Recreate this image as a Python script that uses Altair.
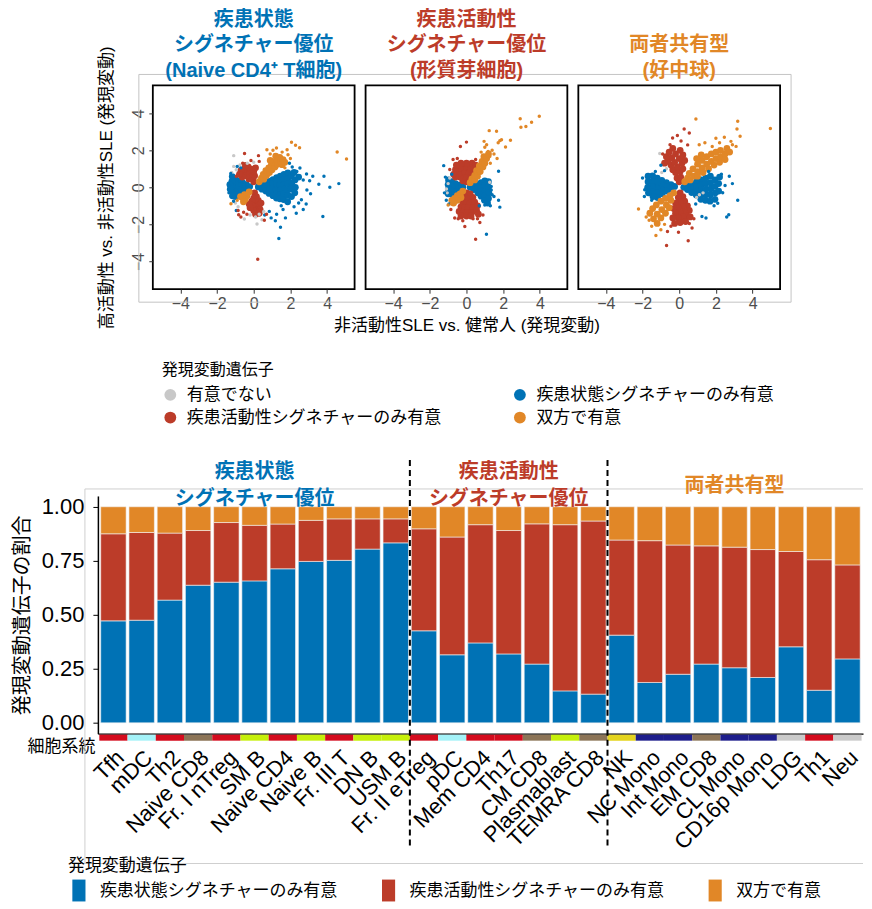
import altair as alt
import pandas as pd

FONT = "Liberation Sans, Noto Sans CJK JP, sans-serif"
BLUE, RED, ORANGE, GRAY = "#0072B5", "#BC3C29", "#E18727", "#C8C8C8"

NS = "有意でない"
STATE = "疾患状態シグネチャーのみ有意"
ACT = "疾患活動性シグネチャーのみ有意"
BOTH = "双方で有意"
DRAW_ORDER = [NS, STATE, ACT, BOTH]
LEGEND_ORDER = [NS, ACT, STATE, BOTH]
LEGEND_COLORS = [GRAY, RED, BLUE, ORANGE]

# ---------------- scatter data (x: inactive SLE vs HC, y: high vs inactive SLE)
# Panel 1: Naive CD4+ T cells
P1_GRAY = [(-1.09, 1.71), (-1.09, 1.13), (-0.95, 0.95), (-0.75, 1.2), (-1.2, 0.8), (-0.51, -1.71),
           (0.18, -1.98), (0.45, -1.75), (0.3, -1.45), (-0.2, -1.5), (-0.85, -1.05), (-1.0, -0.85),
           (0.55, -1.3), (0.1, -1.6), (-0.35, 1.3), (0.0, 1.35)]
P1_BLUE_CORE = [(0.25, 0.02), (0.45, 0.12), (0.45, -0.1), (0.65, 0.22), (0.62, 0.02), (0.66, -0.2),
                (0.85, 0.32), (0.83, 0.1), (0.86, -0.12), (0.84, -0.33), (1.05, 0.42), (1.03, 0.2),
                (1.06, -0.02), (1.02, -0.24), (1.05, -0.45), (1.25, 0.52), (1.24, 0.3), (1.27, 0.08),
                (1.23, -0.14), (1.26, -0.36), (1.24, -0.58), (1.45, 0.6), (1.46, 0.36), (1.44, 0.12),
                (1.47, -0.12), (1.45, -0.38), (1.43, -0.62), (1.65, 0.7), (1.66, 0.43), (1.64, 0.16),
                (1.67, -0.1), (1.65, -0.36), (1.63, -0.66), (1.86, 0.78), (1.85, 0.46), (1.88, 0.18),
                (1.84, -0.14), (1.87, -0.44), (1.85, -0.78), (2.05, 0.6), (2.08, 0.25), (2.04, -0.1),
                (2.06, -0.5), (2.25, 0.4), (2.27, 0.0), (2.24, -0.3), (2.45, 0.55), (2.2, 0.8),
                (-0.22, 0.04), (-0.4, 0.14), (-0.42, -0.08), (-0.6, 0.24), (-0.62, 0.02), (-0.6, -0.18),
                (-0.8, 0.34), (-0.82, 0.1), (-0.79, -0.12), (-0.81, -0.34), (-1.0, 0.46), (-1.02, 0.22),
                (-0.99, -0.02), (-1.01, -0.26), (-1.0, -0.5), (-1.17, 0.58), (-1.19, 0.32), (-1.18, 0.06),
                (-1.2, -0.2), (-1.16, -0.46), (-1.3, 0.15), (-1.28, -0.1)]
P1_BLUE = [(4.64, 0.2), (4.15, 0.0), (3.77, -1.57), (3.83, 0.6), (3.55, 0.17), (3.22, 0.6), (2.88, 0.72),
           (2.52, 1.04), (1.46, -2.16), (1.37, -2.76), (2.86, -0.9), (2.7, -1.2), (2.32, -1.4),
           (1.73, -1.65), (1.18, -1.8), (2.6, -0.67), (2.45, -0.85), (2.9, -0.15), (3.1, -0.35),
           (2.1, 1.1), (1.95, 1.3), (1.6, -1.2), (1.25, -1.45), (0.85, -1.3), (0.95, -1.65),
           (-0.9, 1.13), (-0.7, 1.05), (-0.95, -1.25), (-1.35, 0.1), (-1.35, -0.3), (2.2, -1.05),
           (3.05, 0.35), (2.7, 0.4), (2.35, 0.85), (1.5, -1.0), (0.6, -1.5), (-1.25, 0.75), (-1.1, -0.75)]
P1_RED_CORE = [(0.0, 0.3), (-0.12, 0.5), (0.05, 0.62), (-0.26, 0.45), (-0.2, 0.72), (0.0, 0.86),
               (-0.4, 0.62), (-0.36, 0.86), (-0.14, 0.98), (-0.56, 0.76), (-0.5, 1.0), (-0.3, 1.1),
               (-0.7, 0.9), (-0.62, 0.55), (0.1, 1.05), (-0.45, 1.18), (-0.78, 0.7),
               (0.05, -0.3), (0.15, -0.5), (0.0, -0.58), (0.25, -0.7), (0.1, -0.8), (-0.1, -0.74),
               (0.3, -0.95), (0.15, -1.05), (-0.05, -1.0), (0.35, -1.2), (0.2, -1.3), (0.0, -1.25),
               (-0.2, -1.1), (0.4, -0.85), (-0.25, -0.9), (0.3, -1.4), (0.1, -1.45)]
P1_RED = [(-0.5, 1.82), (0.26, 1.71), (0.58, -1.78), (-0.82, -1.48), (-0.37, -1.45), (-0.7, -1.6),
          (-0.55, -1.35), (0.22, -3.88), (-0.85, -1.25), (0.3, 1.4), (-0.15, 1.45), (-0.95, 0.6),
          (0.7, -1.45), (-0.6, 1.3)]
P1_ORANGE_CORE = [(0.3, 0.3), (0.42, 0.5), (0.55, 0.44), (0.52, 0.7), (0.7, 0.64), (0.66, 0.9),
                  (0.86, 0.8), (0.82, 1.05), (1.0, 0.95), (0.96, 1.2), (1.16, 1.1), (1.1, 1.35),
                  (1.3, 1.25), (1.26, 1.5), (1.46, 1.4), (1.42, 1.62), (1.6, 1.5), (1.55, 1.22),
                  (1.7, 1.35), (0.9, 1.45), (1.2, 1.68), (-0.25, -0.25), (-0.36, -0.45), (-0.5, -0.4),
                  (-0.46, -0.64), (-0.62, -0.55), (-0.72, -0.5), (-0.56, -0.78)]
P1_ORANGE = [(2.06, 2.43), (2.28, 2.27), (2.5, 2.14), (1.82, 2.03), (1.24, 2.12), (0.72, 2.03),
             (4.55, 1.91), (5.06, 1.53), (1.87, 1.76), (2.0, 1.55), (-1.24, -0.89), (1.55, 1.9),
             (0.9, 1.8), (1.05, 2.0), (1.7, 1.05), (-0.9, -0.7)]

# Panel 2: Plasmablasts
P2_GRAY = [(1.27, 0.27), (-1.09, -0.09), (-1.0, 0.2), (-0.91, 0.5), (-1.05, -0.3)]
P2_BLUE_CORE = [(0.2, 0.0), (0.4, 0.08), (0.4, -0.12), (0.6, 0.16), (0.6, -0.08), (0.62, -0.3),
                (0.8, 0.25), (0.8, 0.0), (0.82, -0.25), (0.8, -0.48), (1.0, 0.35), (1.0, 0.08),
                (1.02, -0.2), (1.0, -0.48), (0.98, -0.7), (1.2, 0.3), (1.2, 0.0), (1.22, -0.3),
                (1.2, -0.6), (1.15, -0.85), (-0.2, 0.02), (-0.4, 0.12), (-0.4, -0.1), (-0.6, 0.2),
                (-0.6, -0.02), (-0.62, -0.22), (-0.8, 0.3), (-0.8, 0.06), (-0.82, -0.18), (-0.8, -0.38),
                (-0.98, 0.4), (-1.0, 0.15), (-0.98, -0.1), (-1.0, -0.35)]
P2_BLUE = [(-1.24, 1.17), (1.75, 0.87), (1.35, 0.05), (1.35, -0.15), (1.75, -0.7), (1.82, -1.07),
           (1.09, -2.53), (1.0, -0.95), (1.4, -0.4), (-1.1, -0.7), (-0.95, -0.9), (-1.15, 0.55),
           (0.7, -1.0), (1.3, -1.0), (-0.8, 0.7), (1.5, -0.5), (-1.2, -0.3)]
P2_RED_CORE = [(0.0, 0.3), (-0.2, 0.35), (0.15, 0.55), (-0.1, 0.6), (-0.35, 0.55), (0.3, 0.8),
               (0.05, 0.85), (-0.2, 0.85), (-0.45, 0.75), (-0.6, 0.55), (0.4, 1.05), (0.15, 1.1),
               (-0.1, 1.1), (-0.35, 1.05), (-0.6, 0.95), (-0.7, 0.7), (0.3, 1.3), (0.0, 1.3),
               (-0.3, 1.3), (-0.55, 1.2), (0.5, 1.2),
               (0.0, -0.3), (0.2, -0.35), (-0.1, -0.55), (0.1, -0.6), (0.35, -0.55), (-0.2, -0.85),
               (0.0, -0.85), (0.2, -0.85), (0.45, -0.8), (-0.3, -1.05), (-0.1, -1.1), (0.1, -1.1),
               (0.35, -1.1), (0.6, -1.0), (-0.4, -1.3), (-0.2, -1.35), (0.05, -1.35), (0.3, -1.35),
               (0.55, -1.25), (-0.3, -1.55), (0.0, -1.55), (0.25, -1.55), (0.65, -1.45)]
P2_RED = [(0.0, 2.44), (-0.33, 2.2), (-0.73, 1.5), (-0.91, 0.96), (-0.09, -2.12), (0.73, -1.9),
          (0.5, -2.8), (0.36, -1.7), (0.6, -1.7), (-0.64, -1.66), (-0.45, -1.7), (-0.2, -1.8),
          (0.9, -1.5), (-0.5, 1.55), (0.5, 1.5), (-0.85, -1.2)]
P2_ORANGE_CORE = [(0.2, 0.25), (0.3, 0.45), (0.45, 0.4), (0.45, 0.65), (0.6, 0.6), (0.55, 0.9),
                  (0.75, 0.85), (0.7, 1.15), (0.9, 1.1), (0.85, 1.4), (1.0, 1.3), (0.95, 1.65),
                  (1.1, 1.55), (1.2, 1.8), (-0.2, -0.2), (-0.35, -0.35), (-0.3, -0.55), (-0.5, -0.45),
                  (-0.5, -0.7), (-0.65, -0.6), (-0.7, -0.85), (-0.8, -0.7)]
P2_ORANGE = [(3.97, 3.84), (3.55, 3.51), (2.93, 3.7), (2.97, 3.24), (3.24, 3.28), (2.4, 2.54),
             (2.13, 2.18), (1.24, 3.06), (1.64, 3.03), (1.91, 2.57), (1.82, 2.52), (1.73, 2.4),
             (0.96, 2.48), (1.0, 2.16), (1.18, 1.94), (1.27, 1.67), (1.67, 1.55), (1.4, 2.0),
             (1.5, 1.8), (1.1, 2.3), (0.8, 1.9), (-0.82, -0.9), (-1.0, -0.95), (1.3, 1.3)]

# Panel 3: Neutrophils
P3_GRAY = [(-1.06, 1.82), (1.1, -0.4), (0.95, -0.55), (-0.7, 1.0), (-0.95, 0.8), (1.3, -0.3)]
P3_BLUE_CORE = [(0.25, 0.0), (0.45, 0.1), (0.45, -0.12), (0.7, 0.2), (0.7, -0.05), (0.68, -0.28),
                (0.95, 0.3), (0.95, 0.05), (0.97, -0.2), (0.93, -0.42), (1.2, 0.4), (1.2, 0.12),
                (1.22, -0.15), (1.2, -0.42), (1.18, -0.65), (1.45, 0.5), (1.45, 0.2), (1.47, -0.1),
                (1.45, -0.4), (1.43, -0.7), (1.7, 0.6), (1.7, 0.25), (1.72, -0.08), (1.7, -0.4),
                (1.68, -0.75), (1.95, 0.4), (1.95, 0.05), (1.97, -0.3), (1.95, -0.65), (2.15, 0.2),
                (2.15, -0.2), (2.2, 0.55), (-0.25, 0.05), (-0.45, 0.15), (-0.45, -0.08), (-0.7, 0.25),
                (-0.7, 0.02), (-0.68, -0.2), (-0.95, 0.38), (-0.95, 0.12), (-0.97, -0.12), (-0.93, -0.35),
                (-1.2, 0.5), (-1.2, 0.22), (-1.22, -0.05), (-1.2, -0.3), (-1.18, -0.55), (-1.45, 0.62),
                (-1.45, 0.32), (-1.47, 0.02), (-1.45, -0.25), (-1.43, -0.5), (-1.7, 0.6), (-1.7, 0.3),
                (-1.72, 0.0), (-1.68, -0.3)]
P3_BLUE = [(-1.88, -0.13), (-1.68, 0.65), (-1.0, 1.19), (2.73, 0.6), (2.19, 0.23), (3.19, -0.7),
           (2.7, -1.48), (2.59, -1.6), (1.46, -1.66), (1.24, -1.57), (2.1, -0.86), (1.64, -0.74),
           (2.37, -0.29), (-2.0, 0.5), (-1.9, -0.5), (-1.5, -0.7), (2.5, 0.1), (2.3, 0.7),
           (1.9, -1.0), (-1.3, 0.85), (-0.8, 0.9), (0.9, -0.9), (2.9, 0.2), (1.6, 0.85)]
P3_RED_CORE = [(0.0, 0.3), (-0.12, 0.5), (0.08, 0.55), (-0.2, 0.8), (0.05, 0.85), (-0.35, 0.95),
               (0.2, 1.0), (-0.1, 1.1), (-0.45, 1.2), (0.15, 1.3), (-0.25, 1.35), (-0.6, 1.4),
               (0.3, 1.45), (0.0, 1.55), (-0.4, 1.6), (-0.7, 1.65), (0.2, 1.75), (-0.2, 1.8),
               (-0.55, 1.9), (0.05, 2.0), (-0.35, 2.1), (-0.8, 1.3),
               (0.05, -0.3), (0.2, -0.5), (-0.05, -0.55), (0.3, -0.75), (0.05, -0.8), (-0.2, -0.85),
               (0.45, -1.0), (0.2, -1.05), (-0.05, -1.1), (-0.3, -1.15), (0.55, -1.25), (0.3, -1.3),
               (0.05, -1.35), (-0.2, -1.4), (0.45, -1.55), (0.2, -1.6), (-0.05, -1.65), (-0.35, -1.65),
               (0.35, -1.85), (0.05, -1.9), (-0.25, -1.95), (0.6, -1.6)]
P3_RED = [(-0.36, 2.66), (0.27, 3.15), (0.55, 2.93), (0.46, 2.29), (-0.64, -2.38), (-0.04, -2.43),
          (-0.69, -3.14), (0.49, -2.88), (0.55, -1.95), (-0.1, 2.8), (0.1, 2.5), (-0.5, 2.3),
          (-0.9, 1.8), (0.8, -1.7), (0.7, -2.2), (-0.45, -2.1)]
P3_ORANGE_CORE = [(0.3, 0.3), (0.45, 0.5), (0.6, 0.4), (0.55, 0.75), (0.8, 0.6), (0.75, 1.0),
                  (1.0, 0.85), (1.0, 1.25), (1.25, 1.05), (1.25, 1.45), (1.5, 1.25), (1.5, 1.65),
                  (1.75, 1.4), (1.75, 1.8), (2.0, 1.55), (2.0, 1.9), (2.25, 1.65), (2.25, 2.0),
                  (2.5, 1.8), (2.6, 2.1), (1.2, 1.75), (0.95, 1.55), (2.75, 1.9),
                  (1.0, 0.6), (1.3, 0.8), (1.6, 1.0), (1.9, 1.2), (2.2, 1.35), (2.5, 1.5),
                  (-0.3, -0.3), (-0.5, -0.45), (-0.45, -0.7), (-0.75, -0.6), (-0.7, -0.95),
                  (-1.0, -0.75), (-0.95, -1.2), (-1.25, -0.95), (-1.2, -1.45), (-1.45, -1.15),
                  (-1.4, -1.7), (-0.75, -1.4), (-1.0, -1.65), (-1.6, -1.4), (-1.2, -1.95), (-0.55, -1.1)]
P3_ORANGE = [(0.91, 3.69), (3.19, 3.57), (4.97, 3.17), (3.15, 3.15), (3.32, 2.76), (2.46, 2.7),
             (2.82, 2.48), (3.1, 2.21), (1.09, 2.3), (1.4, 2.4), (2.9, 2.3), (2.2, 2.4), (1.8, 2.2),
             (-2.22, -1.17), (-1.64, -1.78), (-1.27, -2.6), (-1.0, -2.29), (-1.5, -2.1),
             (-1.8, -1.6), (-0.8, -2.0), (2.0, 2.65)]

PANELS = {
    "p1": {NS: ([], P1_GRAY), STATE: (P1_BLUE_CORE, P1_BLUE), ACT: (P1_RED_CORE, P1_RED),
           BOTH: (P1_ORANGE_CORE, P1_ORANGE)},
    "p2": {NS: ([], P2_GRAY), STATE: (P2_BLUE_CORE, P2_BLUE), ACT: (P2_RED_CORE, P2_RED),
           BOTH: (P2_ORANGE_CORE, P2_ORANGE)},
    "p3": {NS: ([], P3_GRAY), STATE: (P3_BLUE_CORE, P3_BLUE), ACT: (P3_RED_CORE, P3_RED),
           BOTH: (P3_ORANGE_CORE, P3_ORANGE)},
}
PANEL_TITLES = {
    "p1": ("疾患状態\nシグネチャー優位\n(Naive CD4⁺ T細胞)", BLUE),
    "p2": ("疾患活動性\nシグネチャー優位\n(形質芽細胞)", RED),
    "p3": ("両者共有型\n(好中球)", ORANGE),
}

rows = []
for pk, cats in PANELS.items():
    for cat in DRAW_ORDER:
        core, outer = cats[cat]
        for (x, y) in core:
            rows.append({"panel": pk, "cat": cat, "kind": "core", "x": x, "y": y})
        for (x, y) in outer:
            rows.append({"panel": pk, "cat": cat, "kind": "out", "x": x, "y": y})
sc_df = pd.DataFrame(rows)

# ---------------- bar data
CELLS = ["Tfh", "mDC", "Th2", "Naive CD8", "Fr. I nTreg", "SM B", "Naive CD4", "Naive B", "Fr. III T",
         "DN B", "USM B", "Fr. II eTreg", "pDC", "Mem CD4", "Th17", "CM CD8", "Plasmablast",
         "TEMRA CD8", "NK", "NC Mono", "Int Mono", "EM CD8", "CL Mono", "CD16p Mono", "LDG", "Th1", "Neu"]
STATE_FRAC = [0.472, 0.475, 0.568, 0.637, 0.651, 0.657, 0.713, 0.747, 0.752, 0.804, 0.833,
              0.426, 0.315, 0.370, 0.319, 0.272, 0.148, 0.133,
              0.406, 0.187, 0.225, 0.272, 0.255, 0.210, 0.352, 0.151, 0.296]
ACT_FRAC = [0.403, 0.406, 0.310, 0.253, 0.276, 0.257, 0.207, 0.190, 0.192, 0.140, 0.111,
            0.472, 0.545, 0.547, 0.571, 0.649, 0.769, 0.801,
            0.440, 0.656, 0.598, 0.547, 0.558, 0.592, 0.441, 0.604, 0.435]
BOTH_FRAC = [0.125, 0.119, 0.122, 0.110, 0.073, 0.086, 0.080, 0.063, 0.056, 0.056, 0.056,
             0.102, 0.140, 0.083, 0.110, 0.079, 0.083, 0.066,
             0.154, 0.157, 0.177, 0.181, 0.187, 0.198, 0.207, 0.245, 0.269]
LINEAGE = ["T", "DC", "T", "CD8", "T", "B", "T", "B", "T", "B", "B", "T", "DC", "T", "T", "CD8", "B",
           "CD8", "NK", "Mono", "Mono", "CD8", "Mono", "Mono", "Gran", "T", "Gran"]
LINEAGE_NAMES = ["T", "DC", "CD8", "B", "NK", "Mono", "Gran"]
LINEAGE_COLORS = ["#D40C1E", "#A4F2F8", "#8C7457", "#C6F00A", "#E4D41E", "#1E1E8C", "#CACACA"]
BAR_CATS = [STATE, ACT, BOTH]
GROUP_LABELS = ["疾患状態\nシグネチャー優位", "疾患活動性\nシグネチャー優位", "両者共有型"]
GROUP_ANCHORS = ["SM B", "Th17", "CL Mono"]
GROUP_CATS = [STATE, ACT, BOTH]
GROUP_ENDS = ["USM B", "TEMRA CD8"]

bar_rows = []
for i, c in enumerate(CELLS):
    for k, (cat, arr) in enumerate(zip(BAR_CATS, [STATE_FRAC, ACT_FRAC, BOTH_FRAC])):
        bar_rows.append({"cell": c, "cat": cat, "value": arr[i], "ord": k})
bar_df = pd.DataFrame(bar_rows)
strip_df = pd.DataFrame({"cell": CELLS, "lineage": LINEAGE})
group_df = pd.DataFrame({"cell": GROUP_ANCHORS, "label": GROUP_LABELS, "cat": GROUP_CATS})
group_df["nlines"] = group_df["label"].str.count("\n") + 1
ends_df = pd.DataFrame({"cell": GROUP_ENDS})
one_df = pd.DataFrame({"f": [0]})

# ---------------- scatter panels
PW, PH = 202, 204


def scatter_panel(pk, first=False, xtitle=None):
    d = sc_df[sc_df.panel == pk]
    if first:
        legend = alt.Legend(orient="none", legendX=9, legendY=277, columns=2, title="発現変動遺伝子",
                            titleFontSize=16, titleFontWeight="normal", titleColor="black",
                            titlePadding=8, labelFontSize=17, labelColor="black", labelLimit=400,
                            symbolType="circle", symbolSize=140, symbolStrokeWidth=0,
                            columnPadding=70, rowPadding=5, labelOffset=8)
    else:
        legend = None
    color = alt.Color("cat:N", scale=alt.Scale(domain=LEGEND_ORDER, range=LEGEND_COLORS), legend=legend)
    xaxis = alt.Axis(values=[-4, -2, 0, 2, 4], grid=False, domain=False, tickSize=4,
                     tickColor="#333333", labelFontSize=16, labelColor="#4d4d4d", labelPadding=2,
                     title=xtitle, titleFontSize=17, titleFontWeight="normal", titleColor="black",
                     titlePadding=6)
    x = alt.X("x:Q", scale=alt.Scale(domain=[-5.5, 5.5], nice=False, zero=False), axis=xaxis)
    if first:
        yaxis = alt.Axis(values=[-4, -2, 0, 2, 4], grid=False, domain=False, tickSize=4,
                         tickColor="#333333", labelFontSize=16, labelColor="#4d4d4d", labelPadding=2,
                         labelAngle=-90, labelAlign="center", labelBaseline="bottom",
                         title="高活動性 vs. 非活動性SLE (発現変動)", titleFontSize=17,
                         titleFontWeight="normal", titleColor="black", titlePadding=15)
        y = alt.Y("y:Q", scale=alt.Scale(domain=[-5.5, 5.5], nice=False, zero=False), axis=yaxis)
    else:
        y = alt.Y("y:Q", scale=alt.Scale(domain=[-5.5, 5.5], nice=False, zero=False), axis=None)
    core = alt.Chart(d[d.kind == "core"]).mark_circle(size=46, opacity=1).encode(x=x, y=y, color=color)
    outer = alt.Chart(d[d.kind == "out"]).mark_circle(size=12, opacity=1).encode(x=x, y=y, color=color)
    title_text, col = PANEL_TITLES[pk]
    n_lines = title_text.count("\n") + 1
    title = alt.Chart(pd.DataFrame({"t": [title_text]})).mark_text(
        color=col, fontSize=20, fontWeight="bold", lineBreak="\n", lineHeight=26,
        baseline="middle", align="center").encode(
        text="t:N", x=alt.value(PW / 2), y=alt.value(-14 - 26 * (n_lines - 1)))
    layers = [core, outer, title]
    if first:
        frame = alt.Chart(one_df).mark_rect(fillOpacity=0, stroke="#c4c4c4", strokeWidth=1).encode(
            x=alt.value(-14), x2=alt.value(639), y=alt.value(-11), y2=alt.value(217))
        layers = [frame] + layers
    return alt.layer(*layers).properties(
        width=PW, height=PH, view=alt.ViewBackground(stroke="black", strokeWidth=1.8))


spacer = alt.Chart(one_df).mark_point(opacity=0).encode(
    x=alt.X("f:Q", axis=None), y=alt.Y("f:Q", axis=None)
).properties(width=44, height=PH, view=alt.ViewBackground(stroke="transparent"))

p1 = scatter_panel("p1", first=True)
p2 = scatter_panel("p2", xtitle="非活動性SLE vs. 健常人 (発現変動)")
p3 = scatter_panel("p3")

top = alt.hconcat(spacer, p1, p2, p3, spacing=11, bounds="flush").resolve_scale(
    x="independent", y="independent", color="independent")

# ---------------- bar chart
BW, BH = 766, 238
bar_color = alt.Color("cat:N", scale=alt.Scale(domain=BAR_CATS, range=[BLUE, RED, ORANGE]),
                      legend=alt.Legend(orient="none", legendX=-30, legendY=362, direction="horizontal",
                                        title="発現変動遺伝子", titleFontSize=17, titleFontWeight="normal",
                                        titleColor="black", titlePadding=5, labelFontSize=17,
                                        labelColor="black", labelLimit=400,
                                        symbolType="M-0.6,-1V1H0.6V-1Z", symbolSize=480,
                                        symbolStrokeWidth=0, columnPadding=40, labelOffset=10))
x_scale = alt.Scale(domain=CELLS, paddingInner=0, paddingOuter=0.05)
xb = alt.X("cell:N", sort=None, scale=x_scale,
           axis=alt.Axis(title="細胞系統", labelAngle=-45, labelFontSize=22, labelColor="black",
                         ticks=False, tickSize=0, domainColor="black", domainWidth=1.2, labelPadding=13,
                         titleX=-3, titleY=13, titleAlign="right", titleAngle=0, titleBaseline="middle",
                         titleFontSize=17, titleFontWeight="normal", titleColor="black"))
yb = alt.Y("value:Q", stack="zero", scale=alt.Scale(domain=[-0.05, 1.05], nice=False, zero=False),
           axis=alt.Axis(values=[0, 0.25, 0.5, 0.75, 1], format=".2f", grid=False, labelFontSize=22,
                         labelColor="black", tickSize=5, tickColor="black", domainColor="black",
                         domainWidth=1.5, labelPadding=9, title="発現変動遺伝子の割合", titleFontSize=20,
                         titleFontWeight="normal", titleColor="black", titlePadding=9))

frame_top = alt.Chart(one_df).mark_rule(color="#cfcfcf", strokeWidth=1).encode(
    x=alt.value(-13), x2=alt.value(BW), y=alt.value(-7))
frame_left = alt.Chart(one_df).mark_rule(color="#cfcfcf", strokeWidth=1).encode(
    x=alt.value(-13), y=alt.value(-7), y2=alt.value(368))
frame_bottom = alt.Chart(one_df).mark_rule(color="#cfcfcf", strokeWidth=1).encode(
    x=alt.value(-13), x2=alt.value(BW), y=alt.value(368))

bars = alt.Chart(bar_df).mark_bar(width=alt.RelativeBandSize(0.9), stroke="#f4f4f4",
                                  strokeWidth=0.6).encode(
    x=xb, y=yb, color=bar_color, order=alt.Order("ord:Q"))
strip = alt.Chart(strip_df).mark_rect().encode(
    x=alt.X("cell:N", sort=None, scale=x_scale), y=alt.value(239), y2=alt.value(245),
    fill=alt.Fill("lineage:N", scale=alt.Scale(domain=LINEAGE_NAMES, range=LINEAGE_COLORS), legend=None))
rules = alt.Chart(ends_df).mark_rule(strokeDash=[6, 4], strokeWidth=2, color="black").encode(
    x=alt.X("cell:N", sort=None, scale=x_scale, bandPosition=1), y=alt.value(-36), y2=alt.value(353))


def group_titles(n):
    sub = group_df[group_df.nlines == n]
    return alt.Chart(sub).mark_text(fontSize=20, fontWeight="bold", lineBreak="\n", lineHeight=27,
                                    baseline="middle", align="center").encode(
        x=alt.X("cell:N", sort=None, scale=x_scale), y=alt.value(-10 - 14 * (n - 1)),
        text="label:N", color=bar_color)


bottom = alt.layer(frame_top, frame_left, frame_bottom, bars, strip, rules,
                   group_titles(2), group_titles(1)).properties(
    width=BW, height=BH, view=alt.ViewBackground(stroke="transparent"))

chart = alt.vconcat(top, bottom, spacing=32).resolve_scale(
    x="independent", y="independent", color="independent"
).properties(
    padding={"left": 4, "top": 0, "right": 0, "bottom": 0}
).configure(font=FONT).configure_view(strokeWidth=0)

chart.save("out.html", embed_options={"renderer": "svg", "actions": False})
